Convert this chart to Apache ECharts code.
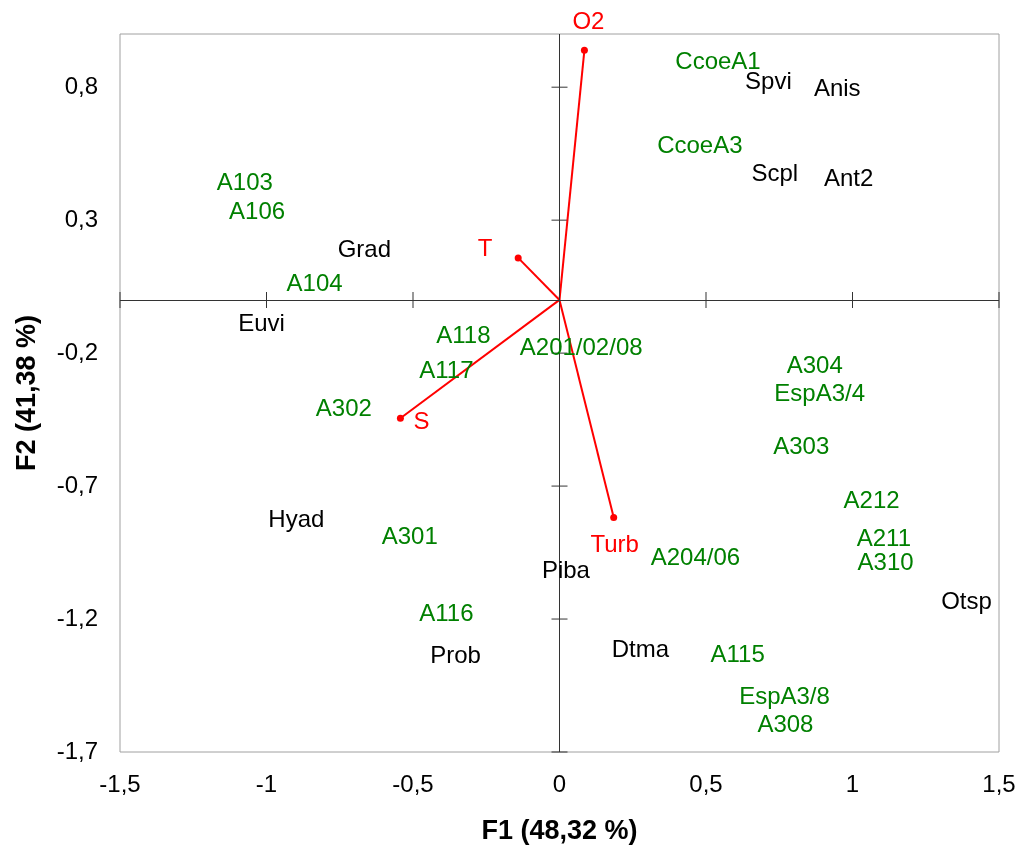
<!DOCTYPE html>
<html>
<head>
<meta charset="utf-8">
<script src="https://cdn.jsdelivr.net/npm/echarts@6/dist/echarts.min.js"></script>
<style>
html,body{margin:0;padding:0;background:#fff;}
#chart{width:1019px;height:846px;}
</style>
</head>
<body>
<div id="chart"></div>
<script>
// Observations (green labels)
const sampleNames = ['A103','A106','A104','CcoeA1','CcoeA3','A118','A117','A302','A201/02/08','A304','EspA3/4','A303','A212','A211','A310','A301','A116','A115','EspA3/8','A308','A204/06'];
const sampleF1 = [-1.074,-1.032,-0.836,0.541,0.479,-0.328,-0.386,-0.736,0.074,0.871,0.888,0.825,1.065,1.107,1.113,-0.511,-0.386,0.608,0.768,0.771,0.464];
const sampleF2 = [0.452,0.343,0.074,0.907,0.594,-0.123,-0.253,-0.396,-0.169,-0.233,-0.341,-0.541,-0.744,-0.886,-0.975,-0.879,-1.167,-1.322,-1.480,-1.585,-0.956];

// Species (black labels)
const speciesNames = ['Grad','Euvi','Spvi','Anis','Scpl','Ant2','Piba','Hyad','Prob','Dtma','Otsp'];
const speciesF1 = [-0.666,-1.017,0.713,0.948,0.735,0.987,0.022,-0.898,-0.355,0.276,1.389];
const speciesF2 = [0.200,-0.077,0.832,0.807,0.487,0.470,-1.007,-0.813,-1.325,-1.303,-1.122];

// Environmental variables (red vectors)
const varNames = ['O2','T','S','Turb'];
const varF1 = [0.085,-0.141,-0.543,0.185];
const varF2 = [0.939,0.158,-0.445,-0.818];

// Axis ticks
const xTicks = [-1.5,-1,-0.5,0,0.5,1,1.5];
const yTicks = [-1.7,-1.2,-0.7,-0.2,0.3,0.8];

const FONT = "'Liberation Sans', Arial, sans-serif";
const GREEN = '#008000';
const RED = '#ff0000';
const AXISDARK = '#333333';

const varLabelOffsets = {O2:[4,-28], T:[-33,-9], S:[21,4], Turb:[1,28]};

const fmt = v => String(Math.round(v*10)/10).replace('.', ',');

const series = [];

// center cross lines
series.push({
  type:'scatter', data:[], silent:true,
  markLine:{
    silent:true, symbol:'none', animation:false,
    label:{show:false},
    lineStyle:{color:AXISDARK, width:1, type:'solid', opacity:1},
    data:[{xAxis:0},{yAxis:0}]
  }
});
// cross ticks on the center lines
series.push({
  type:'scatter', silent:true, symbol:'rect', symbolSize:[1,16],
  itemStyle:{color:AXISDARK, opacity:1},
  data: xTicks.map(v => [v,0])
});
series.push({
  type:'scatter', silent:true, symbol:'rect', symbolSize:[16,1],
  itemStyle:{color:AXISDARK, opacity:1},
  data: yTicks.map(v => [0,v])
});

// vectors
varNames.forEach((n,i) => {
  series.push({
    type:'line', silent:true, showSymbol:false, symbol:'none',
    lineStyle:{color:RED, width:2, opacity:1},
    data:[[0,0],[varF1[i],varF2[i]]],
    z:3
  });
});
series.push({
  type:'scatter', silent:true, symbol:'circle', symbolSize:7,
  itemStyle:{color:RED, opacity:1},
  z:4,
  data: varNames.map((n,i) => ({
    value:[varF1[i],varF2[i]], name:n,
    label:{offset:varLabelOffsets[n]}
  })),
  label:{show:true, position:'inside', formatter:p=>p.name, color:RED, fontSize:24, fontFamily:FONT}
});

// samples
series.push({
  type:'scatter', silent:true, symbolSize:0,
  itemStyle:{opacity:1},
  data: sampleNames.map((n,i) => ({value:[sampleF1[i],sampleF2[i]], name:n})),
  label:{show:true, position:'inside', offset:[0,4], formatter:p=>p.name, color:GREEN, fontSize:24, fontFamily:FONT},
  z:5
});
// species
series.push({
  type:'scatter', silent:true, symbolSize:0,
  itemStyle:{opacity:1},
  data: speciesNames.map((n,i) => ({value:[speciesF1[i],speciesF2[i]], name:n})),
  label:{show:true, position:'inside', offset:[0,4], formatter:p=>p.name, color:'#000', fontSize:24, fontFamily:FONT},
  z:5
});

const chart = echarts.init(document.getElementById('chart'), null, {renderer:'canvas'});
chart.setOption({
  animation:false,
  backgroundColor:'#fff',
  grid:{left:120, top:34, right:20, bottom:94, containLabel:false, outerBoundsMode:'none',
        show:true, borderColor:'#a0a0a0', borderWidth:1, backgroundColor:'transparent'},
  xAxis:{
    type:'value', min:-1.5, max:1.5, interval:0.5,
    axisLine:{show:false, onZero:false}, axisTick:{show:false}, splitLine:{show:false},
    axisLabel:{formatter:fmt, color:'#000', fontSize:24, fontFamily:FONT, margin:21},
    name:'F1 (48,32 %)', nameLocation:'middle', nameGap:66,
    nameTextStyle:{fontSize:27, fontWeight:'bold', color:'#000', fontFamily:FONT}
  },
  yAxis:{
    type:'value', min:-1.7, max:1.0, interval:0.5,
    axisLine:{show:false, onZero:false}, axisTick:{show:false}, splitLine:{show:false},
    axisLabel:{formatter:v => (v > 0.95 ? '' : fmt(v)), color:'#000', fontSize:24, fontFamily:FONT, margin:22,
               padding:[6,0,0,0], backgroundColor:'rgba(255,255,255,0)', showMaxLabel:false},
    name:'F2 (41,38 %)', nameLocation:'middle', nameGap:79,
    nameTextStyle:{fontSize:27, fontWeight:'bold', color:'#000', fontFamily:FONT}
  },
  series: series
});
</script>
</body>
</html>
